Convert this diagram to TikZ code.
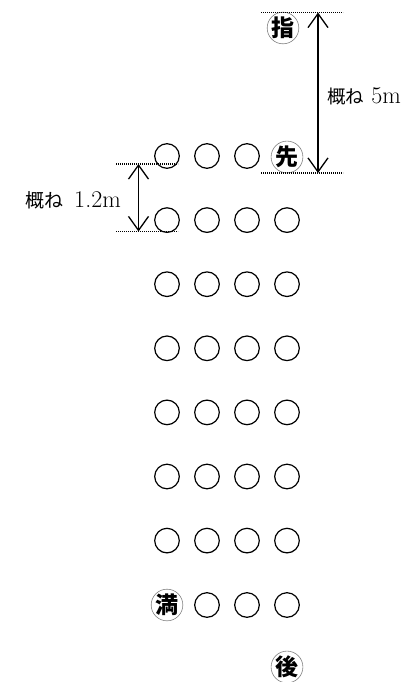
\documentclass[tikz,border=0pt]{standalone}
\usepackage{fontspec}
\newfontfamily\cjk{Noto Sans CJK JP}
\usetikzlibrary{arrows.meta}
\begin{document}
\begin{tikzpicture}[x=1bp,y=-1bp,
  seat/.style={circle,draw,line width=1.2bp,minimum size=24.6bp,inner sep=0pt},
  role/.style={circle,draw=gray,line width=0.6bp,minimum size=30bp,inner sep=0pt,
    font=\cjk\bfseries\fontsize{23bp}{23bp}\selectfont},
  dimarrow/.style={{Straight Barb[length=14bp,width=20bp]}-{Straight Barb[length=14bp,width=20bp]},line width=1.3bp},
  guide/.style={line width=1.1bp,dash pattern=on 1bp off 1bp},
  lbl/.style={inner sep=0pt,font=\fontsize{24bp}{25bp}\selectfont}]
\useasboundingbox (0,0) rectangle (419,682);

% row 1
\foreach \c [count=\i] in {167,207,247} {
  \node[seat] (r1c\i) at (\c,156) {};
}
\node[role] (saki) at (287,157) {先};
% rows 2-7
\foreach \r in {2,...,7} {
  \foreach \c [count=\i] in {167,207,247,287} {
    \node[seat] (r\r c\i) at (\c,{156+64.1*(\r-1)}) {};
  }
}
% row 8
\node[role] (man) at (167,605) {満};
\foreach \c [count=\i from 2] in {207,247,287} {
  \node[seat] (r8c\i) at (\c,605) {};
}
\node[role] (ato) at (287,667) {後};
\node[role] (shi) at (283,28) {指};

% right dimension
\coordinate (rt1) at (261,12.5);
\coordinate (rt2) at (343,12.5);
\coordinate (rb1) at (261,173);
\coordinate (rb2) at (343,173);
\draw[guide] (rt1) -- (rt2);
\draw[guide] (rb1) -- (rb2);
\coordinate (ra1) at (318,12.5);
\coordinate (ra2) at (318,173);
\draw[dimarrow] (ra1) -- (ra2);
\node[lbl,anchor=west] (lab5) at (327,96) {{\cjk\fontsize{18.5bp}{18.5bp}\selectfont 概ね}\hspace{0.3em}5m};

% left dimension
\coordinate (lt1) at (116,164);
\coordinate (lt2) at (178,164);
\coordinate (lb1) at (116,231.5);
\coordinate (lb2) at (178,231.5);
\draw[guide] (lt1) -- (lt2);
\draw[guide] (lb1) -- (lb2);
\coordinate (la1) at (138.5,164);
\coordinate (la2) at (138.5,231.5);
\draw[dimarrow] (la1) -- (la2);
\node[lbl,anchor=east] (lab12) at (121,200) {{\cjk\fontsize{19bp}{19bp}\selectfont 概ね}\hspace{0.45em}1.2m};
\end{tikzpicture}
\end{document}
